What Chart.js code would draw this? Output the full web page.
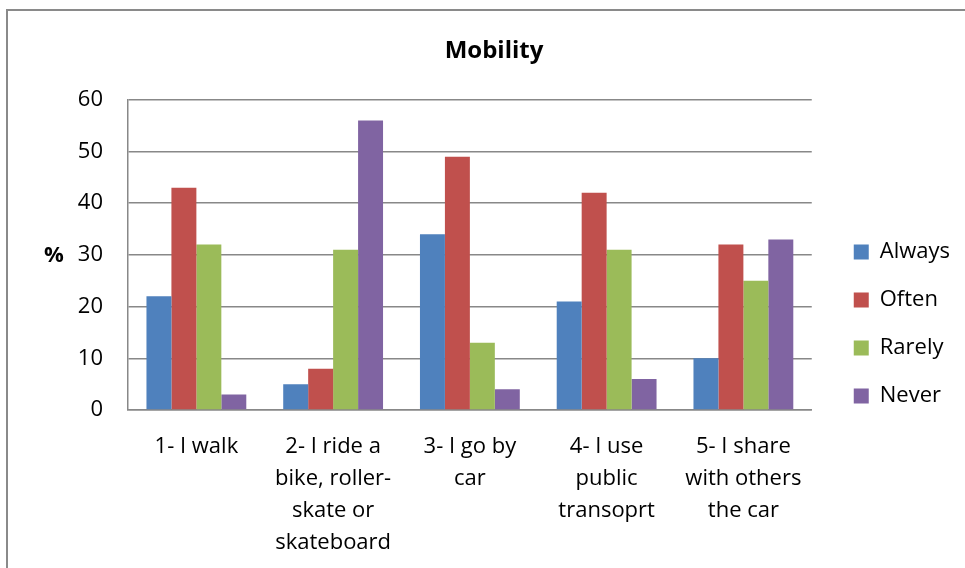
<!DOCTYPE html>
<html>
<head>
<meta charset="utf-8">
<script src="https://cdn.jsdelivr.net/npm/chart.js@4.4.0/dist/chart.umd.min.js"></script>
<style>
  html, body { margin: 0; padding: 0; background: #fff; overflow: hidden; }
  #wrap { position: relative; width: 965px; height: 568px; overflow: hidden; }
  #frame { position: absolute; left: 6px; top: 9px; width: 1100px; height: 700px;
           border: 2px solid #8a8a8a; pointer-events: none; }
  canvas { position: absolute; left: 0; top: 0; }
</style>
</head>
<body>
<div id="wrap">
  <canvas id="mobilityChart" width="965" height="700"></canvas>
  <div id="frame"></div>
</div>
<script>
const categories = [
    ['1- I walk'],
    ['2- I ride a', 'bike, roller-', 'skate or', 'skateboard'],
    ['3- I go by', 'car'],
    ['4- I use', 'public', 'transoprt'],
    ['5- I share', 'with others', 'the car']
];
const always = [22, 5, 34, 21, 10];
const often = [43, 8, 49, 42, 32];
const rarely = [32, 31, 13, 31, 25];
const never = [3, 56, 4, 6, 33];
const yTicks = [0, 10, 20, 30, 40, 50, 60];

const fontFamily = "'Open Sans', sans-serif";
const gridColor = '#888888';

// "%" sits horizontally left of the y labels, chart.js would rotate it
const percentLabel = {
    id: 'percentLabel',
    afterDraw(chart) {
        const ctx = chart.ctx;
        const y = chart.scales.y;
        ctx.save();
        ctx.font = 'bold 22px ' + fontFamily;
        ctx.fillStyle = '#000';
        ctx.textAlign = 'center';
        ctx.textBaseline = 'middle';
        ctx.fillText('%', 54, y.getPixelForValue(30) + 1);
        ctx.restore();
    }
};

new Chart(document.getElementById('mobilityChart'), {
    type: 'bar',
    plugins: [percentLabel],
    data: {
        labels: categories,
        datasets: [
            { label: 'Always', data: always, backgroundColor: '#4F81BD' },
            { label: 'Often', data: often, backgroundColor: '#C0504D' },
            { label: 'Rarely', data: rarely, backgroundColor: '#9BBB59' },
            { label: 'Never', data: never, backgroundColor: '#8064A2' }
        ]
    },
    options: {
        responsive: false,
        animation: false,
        datasets: {
            bar: { barPercentage: 1, categoryPercentage: 0.73, borderWidth: 0 }
        },
        layout: { padding: { top: 10, left: 28, right: 5, bottom: 62 } },
        plugins: {
            title: {
                display: true,
                text: 'Mobility',
                color: '#000',
                font: { family: fontFamily, size: 24, weight: 'bold', lineHeight: 1.2 },
                padding: { top: 27, bottom: 34 }
            },
            legend: {
                position: 'right',
                labels: {
                    boxWidth: 15,
                    boxHeight: 15,
                    padding: 26,
                    color: '#000',
                    font: { family: fontFamily, size: 22 }
                }
            },
            tooltip: { enabled: false }
        },
        scales: {
            x: {
                grid: { display: false },
                border: { display: true, color: gridColor, width: 1.5 },
                ticks: {
                    color: '#000',
                    maxRotation: 0,
                    autoSkip: false,
                    padding: 13,
                    font: { family: fontFamily, size: 22, lineHeight: 1.4545 }
                },
                afterFit(scale) { scale.height = 228; }
            },
            y: {
                min: 0,
                max: 60,
                afterBuildTicks(scale) { scale.ticks = yTicks.map(v => ({ value: v })); },
                grid: { color: gridColor, lineWidth: 1.5, drawTicks: false },
                border: { display: true, color: gridColor, width: 1.5 },
                ticks: {
                    color: '#000',
                    padding: 25,
                    font: { family: fontFamily, size: 22 }
                },
                afterFit(scale) { scale.width = 100; }
            },
            spacer: {
                position: 'right',
                display: true,
                grid: { display: false },
                border: { display: false },
                ticks: { display: false },
                afterFit(scale) { scale.width = 16; }
            }
        }
    }
});
</script>
</body>
</html>
